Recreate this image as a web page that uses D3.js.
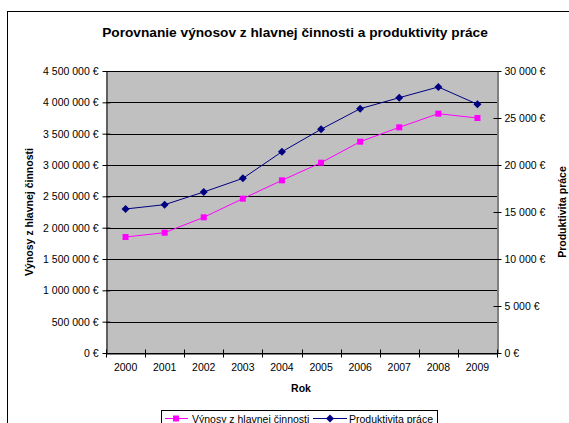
<!DOCTYPE html>
<html>
<head>
<meta charset="utf-8">
<script src="https://cdn.jsdelivr.net/npm/d3@7"></script>
<style>
  body { margin: 0; background: #fff; }
  text { font-family: "Liberation Sans", Arial, sans-serif; fill: #000; }
</style>
</head>
<body>
<script>
var years = ["2000", "2001", "2002", "2003", "2004", "2005", "2006", "2007", "2008", "2009"];
var vynosy = [1851000, 1920000, 2165000, 2463000, 2755000, 3037000, 3372000, 3601000, 3819000, 3750000];
var produktivita = [15320, 15780, 17130, 18580, 21410, 23800, 25990, 27160, 28300, 26460];
var leftTicks = [0, 500000, 1000000, 1500000, 2000000, 2500000, 3000000, 3500000, 4000000, 4500000];
var rightTicks = [0, 5000, 10000, 15000, 20000, 25000, 30000];

var width = 569, height = 423;
var pLeft = 106, pRight = 497, pTop = 71, pBottom = 353;
var fs = "10.5px";

var svg = d3.select("body").append("svg")
  .attr("width", width)
  .attr("height", height);

// chart area border (cut off at right/bottom like the original)
svg.append("rect")
  .attr("x", 7.5).attr("y", 11.5)
  .attr("width", 600).attr("height", 450)
  .attr("fill", "#fff").attr("stroke", "#000").attr("stroke-width", 1);

var x = d3.scaleBand().domain(years).range([pLeft, pRight]);
var yL = d3.scaleLinear().domain([0, 4500000]).range([pBottom, pTop]);
var yR = d3.scaleLinear().domain([0, 30000]).range([pBottom, pTop]);

// format numbers with space as thousands separator
var fmt = function(d) { return d3.format(",")(d).replace(/,/g, " ") + " €"; };

// plot area
svg.append("rect")
  .attr("x", pLeft).attr("y", pTop)
  .attr("width", pRight - pLeft).attr("height", pBottom - pTop)
  .attr("fill", "#c0c0c0");

// gridlines
svg.selectAll("line.grid")
  .data(leftTicks)
  .enter()
  .append("line")
  .attr("class", "grid")
  .attr("x1", pLeft).attr("x2", pRight)
  .attr("y1", function(d) { return Math.round(yL(d)) + 0.5; })
  .attr("y2", function(d) { return Math.round(yL(d)) + 0.5; })
  .attr("stroke", "#000");

// left axis
var gL = svg.append("g").attr("transform", "translate(" + (pLeft + 0.5) + ",0)")
  .call(d3.axisLeft(yL).tickValues(leftTicks).tickFormat(fmt).tickSizeInner(4).tickSizeOuter(0).tickPadding(3));
gL.selectAll(".tick line").attr("x2", -4).attr("x1", 4).attr("stroke", "#000");
gL.select(".domain").attr("stroke", "#000");
gL.selectAll("text").attr("font-size", fs).attr("font-family", "Liberation Sans, Arial, sans-serif").attr("x", -8);

// right axis
var gR = svg.append("g").attr("transform", "translate(" + (pRight + 0.5) + ",0)")
  .call(d3.axisRight(yR).tickValues(rightTicks).tickFormat(fmt).tickSizeInner(4).tickSizeOuter(0).tickPadding(3));
gR.selectAll(".tick line").attr("x1", -4).attr("x2", 4).attr("stroke", "#000");
gR.select(".domain").attr("stroke", "#000");
gR.selectAll("text").attr("font-size", fs).attr("font-family", "Liberation Sans, Arial, sans-serif").attr("x", 7);

// x axis
var gX = svg.append("g").attr("transform", "translate(0," + (pBottom + 0.5) + ")")
  .call(d3.axisBottom(x).tickSize(0).tickPadding(10));
gX.select(".domain").attr("stroke", "#000");
gX.selectAll("text").attr("font-size", fs).attr("font-family", "Liberation Sans, Arial, sans-serif");
gX.selectAll("line.bound")
  .data(years.concat(["end"]))
  .enter()
  .append("line")
  .attr("class", "bound")
  .attr("x1", function(d, i) { return Math.round(pLeft + i * x.bandwidth()) + 0.5; })
  .attr("x2", function(d, i) { return Math.round(pLeft + i * x.bandwidth()) + 0.5; })
  .attr("y1", -4).attr("y2", 4)
  .attr("stroke", "#000");

// lines
var cx = function(d, i) { return x(years[i]) + x.bandwidth() / 2; };
svg.append("path")
  .datum(vynosy)
  .attr("fill", "none").attr("stroke", "#ff00ff").attr("stroke-width", 1)
  .attr("d", d3.line().x(cx).y(function(d) { return yL(d); }));
svg.append("path")
  .datum(produktivita)
  .attr("fill", "none").attr("stroke", "#000080").attr("stroke-width", 1)
  .attr("d", d3.line().x(cx).y(function(d) { return yR(d); }));

// markers
svg.selectAll("rect.mk")
  .data(vynosy)
  .enter()
  .append("rect")
  .attr("class", "mk")
  .attr("x", function(d, i) { return cx(d, i) - 3; })
  .attr("y", function(d) { return yL(d) - 3; })
  .attr("width", 6).attr("height", 6)
  .attr("fill", "#ff00ff");
svg.selectAll("path.dm")
  .data(produktivita)
  .enter()
  .append("path")
  .attr("class", "dm")
  .attr("d", function(d, i) {
    var px = cx(d, i), py = yR(d);
    return "M" + px + "," + (py - 4) + "L" + (px + 4) + "," + py + "L" + px + "," + (py + 4) + "L" + (px - 4) + "," + py + "Z";
  })
  .attr("fill", "#000080");

// titles
svg.append("text")
  .attr("x", 295).attr("y", 37)
  .attr("text-anchor", "middle")
  .attr("font-size", "13.7px").attr("font-weight", "bold")
  .text("Porovnanie výnosov z hlavnej činnosti a produktivity práce");
svg.append("text")
  .attr("x", 301).attr("y", 392)
  .attr("text-anchor", "middle")
  .attr("font-size", fs).attr("font-weight", "bold")
  .text("Rok");
svg.append("text")
  .attr("transform", "translate(33,212) rotate(-90)")
  .attr("text-anchor", "middle")
  .attr("font-size", fs).attr("font-weight", "bold")
  .text("Výnosy z hlavnej činnosti");
svg.append("text")
  .attr("transform", "translate(566,212) rotate(-90)")
  .attr("text-anchor", "middle")
  .attr("font-size", fs).attr("font-weight", "bold")
  .text("Produktivita práce");

// legend
var lg = svg.append("g");
lg.append("rect")
  .attr("x", 161.5).attr("y", 410.5)
  .attr("width", 276).attr("height", 30)
  .attr("fill", "#fff").attr("stroke", "#000");
lg.append("line").attr("x1", 165).attr("x2", 188).attr("y1", 418.5).attr("y2", 418.5).attr("stroke", "#ff00ff");
lg.append("rect").attr("x", 173).attr("y", 415.5).attr("width", 6).attr("height", 6).attr("fill", "#ff00ff");
lg.append("text").attr("x", 192).attr("y", 422.5).attr("font-size", fs).text("Výnosy z hlavnej činnosti");
lg.append("line").attr("x1", 313).attr("x2", 347).attr("y1", 418.5).attr("y2", 418.5).attr("stroke", "#000080");
lg.append("path").attr("d", "M330,414.5L334,418.5L330,422.5L326,418.5Z").attr("fill", "#000080");
lg.append("text").attr("x", 349).attr("y", 422.5).attr("font-size", fs).text("Produktivita práce");
</script>
</body>
</html>
